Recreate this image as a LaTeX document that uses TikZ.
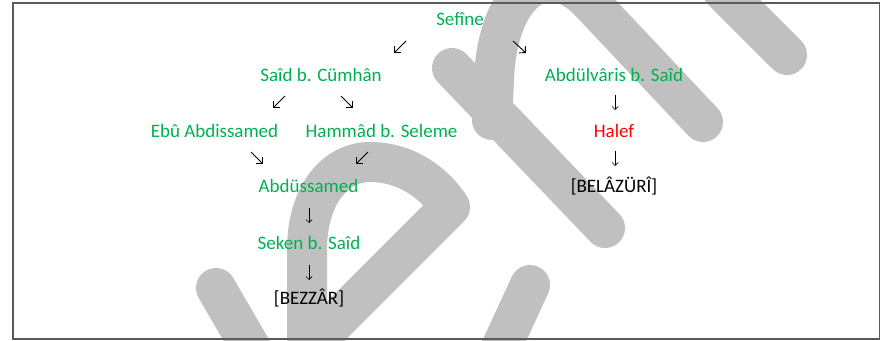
\documentclass[tikz,border=0pt]{standalone}
\usepackage{fontspec}
\setmainfont{Carlito}
\usetikzlibrary{arrows.meta}
\definecolor{wmgray}{RGB}{192,192,192}
\definecolor{nmgreen}{RGB}{0,176,80}
\definecolor{framegray}{RGB}{90,90,90}
\begin{document}
\begin{tikzpicture}[x=1pt,y=-1pt,
  wm/.style={draw=wmgray,line width=40pt,line cap=round,line join=round},
  person/.style={font=\fontsize{19}{23}\selectfont,anchor=base,inner sep=0pt},
  gname/.style={person,text=nmgreen},
  rname/.style={person,text=red},
  bname/.style={person,text=black},
  diag/.style={line width=0.9pt,-{Straight Barb[length=4.5pt,width=9pt,line width=0.9pt]}},
  down/.style={line width=0.7pt,-{Straight Barb[length=3pt,width=6pt,line width=0.7pt]}}]
\useasboundingbox (0,0) rectangle (882,340);
% watermark
\begin{scope}
\clip (0,0) rectangle (882,340);
\draw[wm] (216,288) -- (252,350);
\draw[wm] (307,350) -- (307,250) .. controls (307,195) and (335,162) .. (370,162) .. controls (408,162) and (436,185) .. (450,207) -- (310,347);
\draw[wm] (530,285) -- (500,350);
\draw[wm] (452,68) -- (605,228);
\draw[wm] (492,120) -- (494,80) .. controls (496,20) and (520,-18) .. (550,-18) .. controls (568,-18) and (580,-8) .. (590,2) -- (703,122);
\draw[wm] (722,-10) -- (787,55);
\end{scope}
\draw[framegray,line width=1.3pt] (13,3) rectangle (879.5,339);
% names
\node[gname] (sefine) at (460,25) {Sefîne};
\node[gname] (said) at (321,81) {Saîd b. Cümhân};
\node[gname] (abdulvaris) at (614,81) {Abdülvâris b. Saîd};
\node[gname] (ebu) at (214.5,137) {Ebû Abdissamed};
\node[gname] (hammad) at (381.5,137) {Hammâd b. Seleme};
\node[rname] (halef) at (614,137) {Halef};
\node[gname] (abdussamed) at (308.5,192) {Abdüssamed};
\node[bname] (belazuri) at (614,192) {[BELÂZÜRÎ]};
\node[gname] (seken) at (309,249) {Seken b. Saîd};
\node[bname] (bezzar) at (309,304) {[BEZZÂR]};
% arrows
\coordinate (a1s) at (406,41);   \coordinate (a1e) at (394,53);
\coordinate (a2s) at (513,41);   \coordinate (a2e) at (526,53);
\coordinate (a3s) at (285,96);   \coordinate (a3e) at (273,108);
\coordinate (a4s) at (341,96);   \coordinate (a4e) at (353,108);
\coordinate (a5s) at (615,95);   \coordinate (a5e) at (615,110);
\coordinate (a6s) at (251,152);  \coordinate (a6e) at (263,164);
\coordinate (a7s) at (368,152);  \coordinate (a7e) at (356,164);
\coordinate (a8s) at (615,151);  \coordinate (a8e) at (615,166);
\coordinate (a9s) at (309,208);  \coordinate (a9e) at (309,223);
\coordinate (a10s) at (309,265); \coordinate (a10e) at (309,280);
\draw[diag] (a1s) -- (a1e);
\draw[diag] (a2s) -- (a2e);
\draw[diag] (a3s) -- (a3e);
\draw[diag] (a4s) -- (a4e);
\draw[down] (a5s) -- (a5e);
\draw[diag] (a6s) -- (a6e);
\draw[diag] (a7s) -- (a7e);
\draw[down] (a8s) -- (a8e);
\draw[down] (a9s) -- (a9e);
\draw[down] (a10s) -- (a10e);
\end{tikzpicture}
\end{document}
